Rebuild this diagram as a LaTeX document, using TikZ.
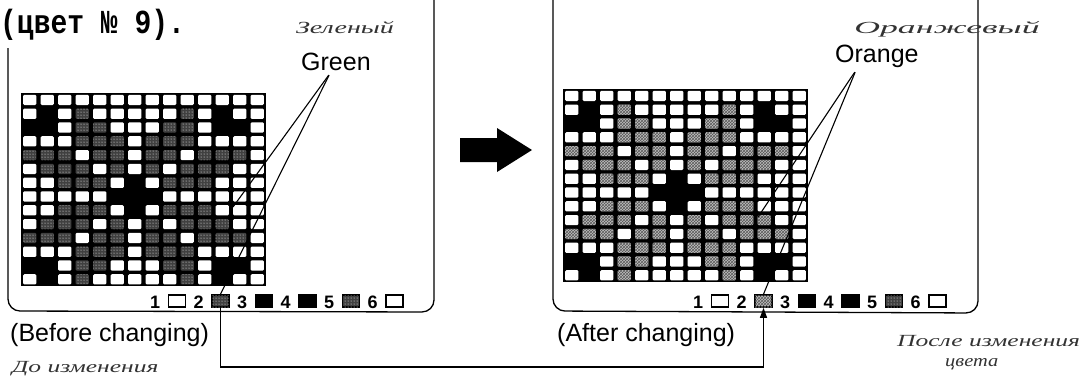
\documentclass[tikz,border=0pt]{standalone}
\usepackage{fontspec}
\setmainfont{Liberation Sans}
\newfontfamily\typewr{Liberation Mono}
\newfontfamily\handw{Liberation Serif}
\usetikzlibrary{arrows.meta, patterns}

% 14 x 14 weaving grid, #1,#2 = top left corner, #3 = style of the colour 2 cells
\newcommand{\weavegrid}[3]{%
  \fill (#1,#2) rectangle ++(245,193);
  \begin{scope}[shift={(#1,#2)}, x=17.5pt, y=-13.8pt]
    \foreach \r/\cells in {
      1/{0,0,0,0,0,0,0,0,0,0,0,0,0,0},
      2/{0,1,0,2,0,0,0,0,0,2,0,1,0,0},
      3/{1,1,0,2,2,0,0,0,2,2,0,1,1,0},
      4/{0,0,0,2,2,2,0,2,2,2,0,0,0,0},
      5/{2,2,2,0,2,2,0,2,2,0,2,2,2,0},
      6/{0,2,2,2,0,2,0,2,0,2,2,2,0,0},
      7/{0,0,2,2,2,0,1,0,2,2,2,0,0,0},
      8/{0,0,0,0,0,1,1,1,0,0,0,0,0,0},
      9/{0,0,2,2,2,0,1,0,2,2,2,0,0,0},
      10/{0,2,2,2,0,2,0,2,0,2,2,2,0,0},
      11/{2,2,2,0,2,2,0,2,2,0,2,2,2,0},
      12/{0,0,0,2,2,2,0,2,2,2,0,0,0,0},
      13/{1,1,0,2,2,0,0,0,2,2,0,1,1,0},
      14/{0,1,0,2,0,0,0,0,0,2,0,1,0,0}} {
      \foreach \c [count=\i] in \cells {
        \ifnum\c=0 \fill[white, rounded corners=1.2pt] (\i-0.88,\r-0.87) rectangle (\i-0.12,\r-0.13);\fi
        \ifnum\c=2 \path[#3, rounded corners=1.2pt] (\i-0.88,\r-0.87) rectangle (\i-0.12,\r-0.13);\fi
      }
    }
  \end{scope}
}

% colour legend 1..6, #1 = x of first digit, #2 = style of box 2, #3 = name prefix
\newcommand{\weavelegend}[3]{%
  \foreach \k/\sty in {1/legopen, 2/#2, 3/legblack, 4/legblack, 5/legdark, 6/legopen} {
    \node[legnum, anchor=base west] (#3n\k) at ({#1+43.5*(\k-1)},308) {\k};
    \node[legbox, \sty] (#3\k) at ({#1+43.5*(\k-1)+27},301) {};
  }
}

\begin{document}
\begin{tikzpicture}[
    x=1pt, y=-1pt,
    frame/.style={line width=1.3pt, rounded corners=12pt},
    leader/.style={line width=1.1pt, shorten <=2pt},
    link/.style={line width=1.1pt},
    label/.style={font=\fontsize{25}{28}\selectfont, inner sep=3pt},
    hand/.style={font=\handw\itshape\fontsize{17}{20}\selectfont, text=black!80, inner sep=0pt},
    legnum/.style={font=\bfseries\fontsize{18}{20}\selectfont, inner sep=0pt},
    legbox/.style={draw, line width=1.6pt, minimum width=17pt, minimum height=12pt, inner sep=0pt},
    legopen/.style={fill=white},
    legblack/.style={fill=black},
    legdark/.style={fill=black!75, postaction={pattern=dots, pattern color=white}},
    greencell/.style={fill=black!75, postaction={pattern=dots, pattern color=white}},
    orangecell/.style={fill=black!25, postaction={pattern=crosshatch, pattern color=black!65}}
]
\useasboundingbox (0,0) rectangle (1092,376);

% Typed text at the top
\node[font=\typewr\bfseries\fontsize{28}{30}\selectfont, anchor=base west, inner sep=0pt] (typed) at (0,33) {\scalebox{1}[1.2]{(цвет № 9).}};

% Panel frames
\draw[frame] (8,48) -- (8,311) -- (434,312) -- (434,-2);
\draw[frame] (553,-2) -- (553,311) -- (978,313) -- (978,-2);

% Grids
\weavegrid{21}{93}{greencell}
\weavegrid{563}{89}{orangecell}

% Legends
\weavelegend{150}{greencell}{bl}
\weavelegend{693}{orangecell}{al}

% Big arrow between the panels
\fill (460,138) -- (497,138) -- (497,128) -- (532,150) -- (497,172) -- (497,162) -- (460,162) -- cycle;

% Colour labels
\node[label, anchor=base west] (lblgreen) at (298,70) {Green};
\node[label, anchor=base west] (lblorange) at (832,62) {Orange};
\node[hand, anchor=base] (hgreen) at (345,33) {\scalebox{1.65}[1]{Зеленый}};
\node[hand, anchor=base] (horange) at (947,33) {\scalebox{2.1}[1]{Оранжевый}};

% Leaders from the labels
\coordinate (gcell) at (233,207);
\coordinate (ocell) at (758,217);
\draw[leader] ([xshift=-6pt]lblgreen.south) -- (gcell);
\draw[leader] ([xshift=-6pt]lblgreen.south) -- (bl2.north);
\draw[leader] ([xshift=-21pt]lblorange.south) -- (ocell);
\draw[leader] ([xshift=-21pt]lblorange.south) -- (al2.north);

% Captions
\node[label, anchor=base west, inner sep=0pt] (before) at (10,341) {(Before changing)};
\node[label, anchor=base west, inner sep=0pt] (after) at (557,341) {(After changing)};

% Link from colour 2 before to colour 2 after
\coordinate (linkrow) at (0,367);
\draw[link, -{Triangle[length=10pt, width=7pt]}] (bl2.south) -- (bl2.south |- linkrow) -| (al2.south);

% Handwritten notes
\node[hand, anchor=base west] (hbefore) at (12,372) {\scalebox{1.5}[1]{До изменения}};
\node[hand, anchor=base west] (hafter) at (897,346) {\scalebox{1.5}[1]{После изменения}};
\node[hand, anchor=base west] (hcolour) at (945,366) {\scalebox{1.2}[1]{цвета}};

\end{tikzpicture}
\end{document}
